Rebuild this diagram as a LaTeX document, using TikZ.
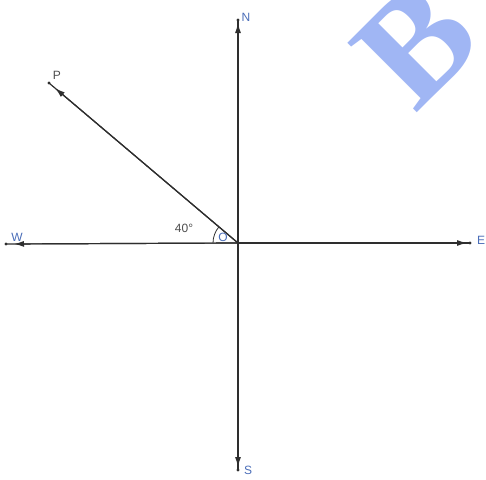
\documentclass[tikz,border=0pt]{standalone}
\usepackage{fontspec}
\setmainfont{Liberation Sans}
\newfontfamily\wmfont{Liberation Serif}
\usetikzlibrary{arrows.meta,calc}
\definecolor{linec}{HTML}{2E2E2E}
\definecolor{labc}{HTML}{4A6DB8}
\definecolor{wmc}{HTML}{A0B6F4}
\begin{document}
\begin{tikzpicture}[x=1pt,y=-1pt,
  ray/.style={draw=linec,line width=1.2pt},
  tipray/.style={draw=linec,line width=1.2pt,-{Latex[length=10pt,width=6pt]}},
  enddot/.style={circle,fill=linec,inner sep=0pt,minimum size=3.2pt},
  lab/.style={text=labc,font=\fontsize{12}{14}\selectfont,inner sep=0pt},
  glab/.style={text=linec!85,font=\fontsize{12}{14}\selectfont,inner sep=0pt}]
\useasboundingbox (0,0) rectangle (486,479);
\begin{scope}
\clip (0,0) rectangle (486,479);
\node[text=wmc,font=\wmfont\bfseries\fontsize{150}{150}\selectfont,rotate=45,anchor=base west,inner sep=0pt] (wm) at (415,115) {BY};
\end{scope}
\coordinate (O) at (238,243);
\node[enddot] (Ne) at (238,20) {};
\node[enddot] (Se) at (238,470) {};
\node[enddot] (We) at (6,244) {};
\node[enddot] (Ee) at (470,243) {};
\node[enddot] (Pe) at (49,83) {};
\draw[ray] (O) -- (Ne.center);
\draw[ray] (O) -- (Se.center);
\draw[ray] (O) -- (We.center);
\draw[ray] (O) -- (Ee.center);
\draw[ray] (O) -- (Pe.center);
\draw[tipray] (O) -- ($(Ne.center)!3pt!(O)$);
\draw[tipray] (O) -- ($(Se.center)!3pt!(O)$);
\draw[tipray] (O) -- ($(We.center)!8pt!(O)$);
\draw[tipray] (O) -- ($(Ee.center)!3pt!(O)$);
\draw[tipray] (O) -- ($(Pe.center)!8pt!(O)$);
\draw[draw=linec,line width=0.8pt] ($(O)+(-25,0)$) arc[start angle=180,end angle=220,radius=25];
\node[lab] (Nl) at (246,17) {N};
\node[lab] (Sl) at (248,470) {S};
\node[lab] (Wl) at (17,237) {W};
\node[lab] (El) at (481,240) {E};
\node[glab] (Pl) at (57,75) {P};
\node[lab] (Ol) at (223,237) {O};
\node[glab] (al) at (184,228) {40°};
\end{tikzpicture}
\end{document}
